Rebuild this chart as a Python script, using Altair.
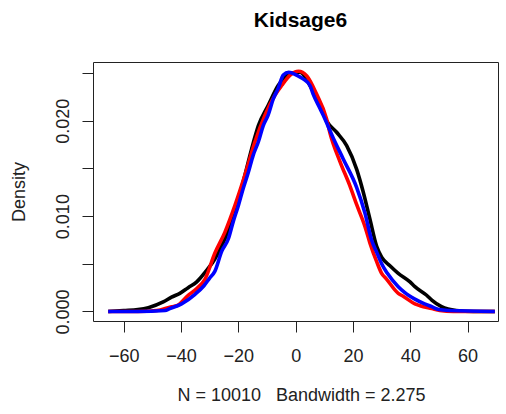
import altair as alt
import pandas as pd

# Density curves
black_x = [-65.4, -60, -55, -51.4, -46.2, -43.3, -40.4, -37.5, -34.5, -31.6, -28.2, -24.7, -21.2,
           -17.7, -15.4, -13.0, -9.6, -6.1, -3.7, -1.4, 1.5, 5.0, 8.5, 10.8, 14.3, 17.8, 21.3,
           23.6, 25.9, 28.3, 30.0, 32.9, 35.8, 39.9, 41.6, 45.7, 47.5, 50.9, 56.0, 62.0, 69.5]
black_y = [0.0, 0.0001, 0.0002, 0.0004, 0.0010, 0.0015, 0.0019, 0.0025, 0.0031, 0.0041, 0.0055,
           0.0076, 0.0104, 0.0143, 0.0170, 0.0195, 0.0216, 0.0237, 0.0246, 0.0250, 0.0251, 0.0237,
           0.0216, 0.0200, 0.0188, 0.0174, 0.0149, 0.0125, 0.0097, 0.0068, 0.0057, 0.0048, 0.0040,
           0.0031, 0.0026, 0.0017, 0.0012, 0.0005, 0.0001, 0.0, 0.0]

red_x = [-65.4, -55, -48.5, -43.3, -41.5, -37.5, -34.5, -31.6, -28.2, -24.7, -21.2, -17.7, -14.2,
         -10.7, -7.2, -4.9, -1.9, 1.0, 3.9, 7.3, 10.8, 12.0, 15.5, 18.9, 21.3, 24.2, 25.9, 28.3,
         30.0, 31.7, 35.8, 37.5, 41.6, 43.4, 47.5, 50.3, 55.0, 69.5]
red_y = [0.0, 0.0, 0.0001, 0.0005, 0.0006, 0.0017, 0.0024, 0.0034, 0.0061, 0.0083, 0.0111, 0.0143,
         0.0178, 0.0206, 0.0227, 0.0237, 0.0248, 0.0252, 0.0247, 0.0228, 0.0202, 0.0187, 0.0157,
         0.0132, 0.0112, 0.0089, 0.0072, 0.0052, 0.0040, 0.0034, 0.0019, 0.0016, 0.0008, 0.0006,
         0.0003, 0.0001, 0.0, 0.0]

blue_x = [-65.4, -55, -45.6, -43.9, -39.8, -35.1, -32.0, -30.0, -28.2, -25.8, -23.5, -21.8, -20.0,
          -18.3, -16.5, -14.8, -13.0, -11.3, -9.6, -7.8, -6.1, -4.3, -2.4, 0.3, 2.6, 5.0, 6.1,
          8.5, 9.6, 13.1, 16.6, 21.3, 24.2, 26.5, 28.3, 30.0, 32.0, 35.8, 38.0, 41.6, 45.0, 47.5,
          50.0, 53.3, 69.5]
blue_y = [0.0, 0.0, 0.0001, 0.0003, 0.0008, 0.0018, 0.0027, 0.0035, 0.0042, 0.0063, 0.0076, 0.0094,
          0.0111, 0.0129, 0.0146, 0.0164, 0.0178, 0.0195, 0.0206, 0.0223, 0.0234, 0.0248, 0.0251,
          0.0248, 0.0244, 0.0237, 0.0228, 0.0213, 0.0206, 0.0182, 0.0160, 0.0130, 0.0103, 0.0075,
          0.0062, 0.0050, 0.0040, 0.0026, 0.0020, 0.0013, 0.0008, 0.0005, 0.0002, 0.0001, 0.0]

x_ticks = [-60, -40, -20, 0, 20, 40, 60]
y_ticks = [0.0, 0.005, 0.010, 0.015, 0.020, 0.025]

series_names = ["black", "red", "blue"]
series_colors = ["#000000", "#ff0000", "#0000ff"]

frames = []
for name, xs, ys in [("black", black_x, black_y), ("red", red_x, red_y), ("blue", blue_x, blue_y)]:
    frames.append(pd.DataFrame({"x": xs, "density": ys, "series": name}))
df = pd.concat(frames, ignore_index=True)

FONT = "Liberation Sans"
INK = "#222222"

x_enc = alt.X(
    "x:Q",
    scale=alt.Scale(domain=[-70.7, 70.6], nice=False, zero=False),
    axis=alt.Axis(
        values=x_ticks,
        format="d",
        grid=False,
        domain=False,
        tickColor=INK,
        tickSize=11,
        labelFont=FONT,
        labelFontSize=18,
        labelColor=INK,
        labelBaseline="alphabetic",
        labelPadding=29.5,
        title="N = 10010\u00a0\u00a0\u00a0Bandwidth = 2.275",
        titleFont=FONT,
        titleFontSize=18,
        titleFontWeight="normal",
        titleColor=INK,
        titleX=208,
        titleY=79,
        titleAlign="center",
        titleBaseline="alphabetic",
    ),
)
y_enc = alt.Y(
    "density:Q",
    scale=alt.Scale(domain=[-0.00100, 0.02617], nice=False, zero=False),
    axis=alt.Axis(
        values=y_ticks,
        grid=False,
        domain=False,
        tickColor=INK,
        tickSize=11,
        labelFont=FONT,
        labelFontSize=18,
        labelColor=INK,
        labelExpr="round(datum.value*1000) % 10 == 0 ? format(datum.value, '.3f') : ''",
        labelAngle=270,
        labelAlign="center",
        labelBaseline="alphabetic",
        labelPadding=13.5,
        title="Density",
        titleFont=FONT,
        titleFontSize=18,
        titleFontWeight="normal",
        titleColor=INK,
        titleX=-69,
        titleY=129.5,
        titleAngle=270,
        titleAlign="center",
        titleBaseline="alphabetic",
    ),
)

layers = []
for name, color in zip(series_names, series_colors):
    layers.append(
        alt.Chart(df)
        .transform_filter(alt.datum.series == name)
        .mark_line(color=color, strokeWidth=3.6, interpolate="monotone")
        .encode(x=x_enc, y=y_enc)
    )

chart = (
    alt.layer(*layers)
    .properties(
        width=405,
        height=259,
        autosize=alt.AutoSizeParams(type="none"),
        padding={"left": 93, "top": 62, "right": 8, "bottom": 93},
        background="white",
        title=alt.TitleParams(
            "Kidsage6",
            font=FONT,
            fontSize=21,
            fontWeight="bold",
            color="black",
            anchor="middle",
            frame="group",
            dx=5,
            offset=14,
            baseline="alphabetic",
        ),
    )
    .configure_view(stroke=INK, strokeWidth=1)
)

chart.save("out.html", embed_options={"renderer": "svg", "actions": False})
